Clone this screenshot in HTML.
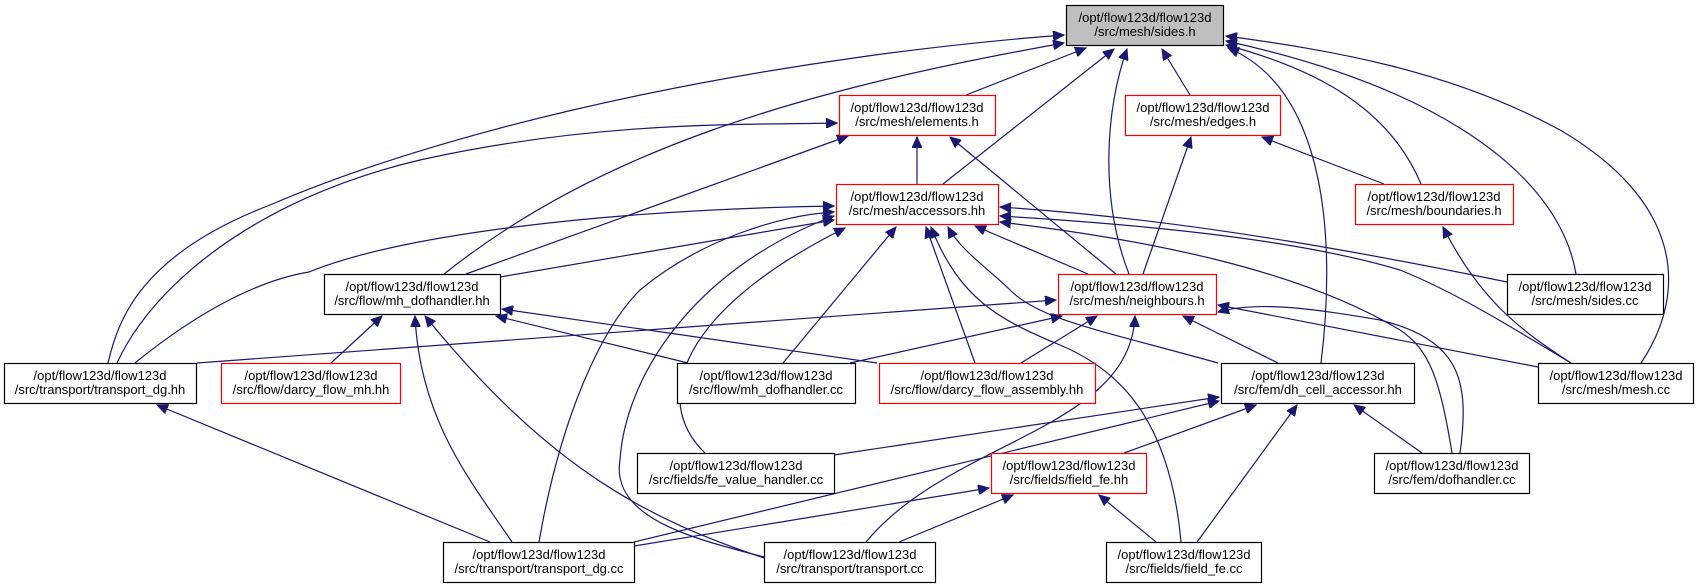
<!DOCTYPE html>
<html><head><meta charset="utf-8"><style>
html,body{margin:0;padding:0;background:#fff;}
svg{display:block;}
text{font-family:"Liberation Sans",Arial,sans-serif;font-size:13px;fill:#000;}
</style></head><body>
<svg width="1697" height="588" viewBox="0 0 1697 588" xmlns="http://www.w3.org/2000/svg">
<defs>
<marker id="a" markerUnits="userSpaceOnUse" markerWidth="12" markerHeight="10" refX="11" refY="5" orient="auto">
<path d="M0,0 L11,5 L0,10 Z" fill="#191970" stroke="#191970"/>
</marker>
</defs>
<g fill="none" stroke="#191970" stroke-width="1.2" marker-end="url(#a)">
<!-- into sides.h -->
<path d="M108,363 C118,320 140,255 270,205 C480,115 800,55 1064,35"/>
<path d="M444,274 C600,150 800,90 1064,43"/>
<path d="M966,95 L1086,48"/>
<path d="M943,184 L1114,49"/>
<path d="M1129,274 C1100,200 1105,110 1127,49"/>
<path d="M1190,95 L1162,49"/>
<path d="M1321,363 C1335,250 1330,90 1228,48"/>
<path d="M1421,184 C1390,110 1320,70 1226,45"/>
<path d="M1576,274 C1560,180 1450,90 1226,41"/>
<path d="M1641,363 C1690,290 1680,200 1560,130 C1450,70 1330,50 1226,36"/>
<!-- into elements.h -->
<path d="M117,363 C150,290 250,200 420,160 C600,120 750,125 837,123"/>
<path d="M466,274 L848,136"/>
<path d="M917,184 L917,137"/>
<path d="M1116,274 L950,137"/>
<!-- into edges.h -->
<path d="M1143,274 L1191,137"/>
<path d="M1384,184 L1262,137"/>
<!-- into accessors.hh -->
<path d="M135,363 C200,310 260,280 309,272 C400,235 600,210 834,206"/>
<path d="M500,277 L834,220"/>
<path d="M539,542 C560,420 600,330 640,290 C700,240 780,215 834,212"/>
<path d="M764,557 C700,540 610,520 620,460 C625,380 690,270 834,216"/>
<path d="M705,453 C650,400 680,310 845,228"/>
<path d="M783,363 L896,227"/>
<path d="M975,363 L926,227"/>
<path d="M1181,542 C1170,420 1120,370 1060,345 C1000,320 960,300 931,227"/>
<path d="M1218,363 C1100,330 1040,320 1010,290 C990,270 960,250 948,227"/>
<path d="M1088,274 L975,226"/>
<path d="M1507,282 C1400,260 1200,220 1000,207"/>
<path d="M1571,363 C1500,320 1450,290 1400,270 C1300,240 1150,225 1000,216"/>
<path d="M1452,453 C1440,380 1430,350 1400,330 C1300,270 1150,240 1000,222"/>
<!-- into boundaries.h -->
<path d="M1571,363 C1520,330 1480,300 1443,227"/>
<!-- into neighbours.h -->
<path d="M197,363 L1056,300"/>
<path d="M850,363 L1062,316"/>
<path d="M1021,363 L1097,316"/>
<path d="M866,542 C950,440 1130,430 1135,316"/>
<path d="M1278,363 L1183,316"/>
<path d="M1538,367 L1218,305"/>
<path d="M1460,453 C1470,380 1460,340 1380,320 C1320,310 1260,300 1218,312"/>
<!-- into mh_dofhandler.hh -->
<path d="M331,363 L382,316"/>
<path d="M512,542 C470,480 420,420 415,316"/>
<path d="M764,558 C650,520 550,470 425,316"/>
<path d="M688,363 L496,316"/>
<path d="M877,363 L502,309"/>
<!-- into transport_dg.hh -->
<path d="M490,542 L157,405"/>
<!-- into dh_cell_accessor.hh -->
<path d="M834,455 L1219,397"/>
<path d="M634,542 L1219,401"/>
<path d="M1124,453 L1256,405"/>
<path d="M1197,542 L1297,405"/>
<path d="M1422,453 L1354,405"/>
<!-- into field_fe.hh -->
<path d="M634,546 L989,488"/>
<path d="M899,542 L1013,495"/>
<path d="M1156,542 L1099,495"/>
</g>
<g stroke-width="1.2">
<rect x="1066.5" y="5.5" width="157" height="40" fill="#bfbfbf" stroke="#000"/>
<rect x="839.5" y="95.5" width="156" height="40" fill="#fff" stroke="#f00"/>
<rect x="1125.5" y="95.5" width="155" height="40" fill="#fff" stroke="#f00"/>
<rect x="836.5" y="184.5" width="162" height="40" fill="#fff" stroke="#f00"/>
<rect x="1355.5" y="184.5" width="158" height="40" fill="#fff" stroke="#f00"/>
<rect x="1058.5" y="274.5" width="158" height="40" fill="#fff" stroke="#f00"/>
<rect x="1507.5" y="274.5" width="156" height="40" fill="#fff" stroke="#000"/>
<rect x="324.5" y="274.5" width="176" height="40" fill="#fff" stroke="#000"/>
<rect x="4.5" y="363.5" width="192" height="40" fill="#fff" stroke="#000"/>
<rect x="221.5" y="363.5" width="179" height="40" fill="#fff" stroke="#f00"/>
<rect x="677.5" y="363.5" width="178" height="40" fill="#fff" stroke="#000"/>
<rect x="879.5" y="363.5" width="216" height="40" fill="#fff" stroke="#f00"/>
<rect x="1221.5" y="363.5" width="193" height="40" fill="#fff" stroke="#000"/>
<rect x="1538.5" y="363.5" width="155" height="40" fill="#fff" stroke="#000"/>
<rect x="637.5" y="453.5" width="197" height="40" fill="#fff" stroke="#000"/>
<rect x="991.5" y="453.5" width="155" height="40" fill="#fff" stroke="#f00"/>
<rect x="1374.5" y="453.5" width="155" height="40" fill="#fff" stroke="#000"/>
<rect x="443.5" y="542.5" width="191" height="40" fill="#fff" stroke="#000"/>
<rect x="764.5" y="542.5" width="171" height="40" fill="#fff" stroke="#000"/>
<rect x="1106.5" y="542.5" width="155" height="40" fill="#fff" stroke="#000"/>
</g>
<g text-anchor="middle">
<text x="1145" y="22">/opt/flow123d/flow123d</text><text x="1145" y="36">/src/mesh/sides.h</text>
<text x="917" y="112">/opt/flow123d/flow123d</text><text x="917" y="126">/src/mesh/elements.h</text>
<text x="1203" y="112">/opt/flow123d/flow123d</text><text x="1203" y="126">/src/mesh/edges.h</text>
<text x="917" y="201">/opt/flow123d/flow123d</text><text x="917" y="215">/src/mesh/accessors.hh</text>
<text x="1434" y="201">/opt/flow123d/flow123d</text><text x="1434" y="215">/src/mesh/boundaries.h</text>
<text x="1137" y="291">/opt/flow123d/flow123d</text><text x="1137" y="305">/src/mesh/neighbours.h</text>
<text x="1585" y="291">/opt/flow123d/flow123d</text><text x="1585" y="305">/src/mesh/sides.cc</text>
<text x="412" y="291">/opt/flow123d/flow123d</text><text x="412" y="305">/src/flow/mh_dofhandler.hh</text>
<text x="100" y="380">/opt/flow123d/flow123d</text><text x="100" y="394">/src/transport/transport_dg.hh</text>
<text x="311" y="380">/opt/flow123d/flow123d</text><text x="311" y="394">/src/flow/darcy_flow_mh.hh</text>
<text x="766" y="380">/opt/flow123d/flow123d</text><text x="766" y="394">/src/flow/mh_dofhandler.cc</text>
<text x="987" y="380">/opt/flow123d/flow123d</text><text x="987" y="394">/src/flow/darcy_flow_assembly.hh</text>
<text x="1318" y="380">/opt/flow123d/flow123d</text><text x="1318" y="394">/src/fem/dh_cell_accessor.hh</text>
<text x="1616" y="380">/opt/flow123d/flow123d</text><text x="1616" y="394">/src/mesh/mesh.cc</text>
<text x="736" y="470">/opt/flow123d/flow123d</text><text x="736" y="484">/src/fields/fe_value_handler.cc</text>
<text x="1069" y="470">/opt/flow123d/flow123d</text><text x="1069" y="484">/src/fields/field_fe.hh</text>
<text x="1452" y="470">/opt/flow123d/flow123d</text><text x="1452" y="484">/src/fem/dofhandler.cc</text>
<text x="539" y="559">/opt/flow123d/flow123d</text><text x="539" y="573">/src/transport/transport_dg.cc</text>
<text x="850" y="559">/opt/flow123d/flow123d</text><text x="850" y="573">/src/transport/transport.cc</text>
<text x="1184" y="559">/opt/flow123d/flow123d</text><text x="1184" y="573">/src/fields/field_fe.cc</text>
</g>
</svg>
</body></html>
